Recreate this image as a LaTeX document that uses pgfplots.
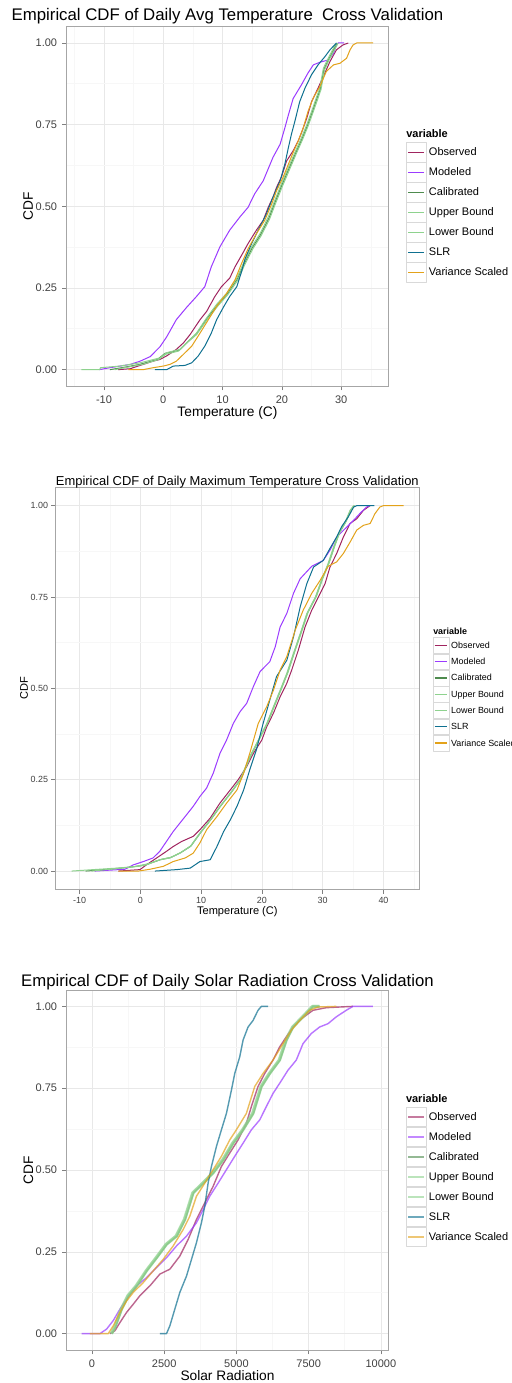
\documentclass[border=0pt]{standalone}
\usepackage{fontspec}
\setmainfont{Liberation Sans}
\usepackage{pgfplots}
\pgfplotsset{compat=1.18}
\definecolor{cObs}{RGB}{160,36,95}
\definecolor{cMod}{RGB}{155,59,255}
\definecolor{cCal}{RGB}{78,139,78}
\definecolor{cBnd}{RGB}{142,210,142}
\definecolor{cSLR}{RGB}{14,112,144}
\definecolor{cVS}{RGB}{227,162,26}
\pgfplotsset{
  ggbase/.style={
    scale only axis,
    anchor=south west,
    axis background/.style={fill=white},
    axis line style={draw=black!35, line width=0.5pt},
    tick align=outside,
    xtick pos=left, ytick pos=left,
    major tick length=3.2pt,
    minor tick length=0pt,
    tick style={draw=black!50, line width=0.5pt},
    grid=both,
    major grid style={draw=black!9, line width=0.5pt},
    minor grid style={draw=black!3, line width=0.5pt},
    ymin=-0.05, ymax=1.05,
    ytick={0,0.25,0.5,0.75,1},
    yticklabels={0.00,0.25,0.50,0.75,1.00},
    minor ytick={0.125,0.375,0.625,0.875},
    ticklabel style={text=black!75},
    legend cell align=left,
    every axis plot/.append style={line width=0.75pt, line join=round},
  },
  key15/.style={
    legend image code/.code={
      \draw[draw=black!15, fill=white, line width=0.4pt, solid, opacity=1] (0pt,-7.3pt) rectangle (15pt,7.3pt);
      \draw[##1] (1.7pt,0pt) -- (13.3pt,0pt);
    },
    legend style={anchor=north west, draw=none, fill=none, inner sep=0pt, outer sep=0pt,
      row sep=0pt, column sep=2pt, font=\fontsize{8.25}{9}\selectfont,
      nodes={inner sep=0pt, text height=6pt, text depth=0.5pt}},
  },
  key15b/.style={
    legend image code/.code={
      \draw[draw=black!15, fill=white, line width=0.4pt, solid, opacity=1] (0pt,-7.3pt) rectangle (15pt,7.3pt);
      \draw[##1, line width=1.4pt, opacity=0.6] (1.7pt,0pt) -- (13.3pt,0pt);
    },
    legend style={anchor=north west, draw=none, fill=none, inner sep=0pt, outer sep=0pt,
      row sep=0pt, column sep=2pt, font=\fontsize{8.25}{9}\selectfont,
      nodes={inner sep=0pt, text height=6pt, text depth=0.5pt}},
  },
  key12/.style={
    legend image code/.code={
      \draw[draw=black!15, fill=white, line width=0.4pt, solid, opacity=1] (0pt,-5.9pt) rectangle (12pt,5.9pt);
      \draw[##1, line width=0.9pt] (1.2pt,0pt) -- (10.8pt,0pt);
    },
    legend style={anchor=north west, draw=none, fill=none, inner sep=0pt, outer sep=0pt,
      row sep=0pt, column sep=1.5pt, font=\fontsize{6.7}{8}\selectfont,
      nodes={inner sep=0pt, text height=4.9pt, text depth=0.4pt}},
  },
}
\begin{document}
\begin{tikzpicture}
\useasboundingbox (0,0) rectangle (383.25pt,-1037.25pt);
%================ Panel 1 ================
\begin{axis}[ggbase, key15,
  at={(50pt,-289.5pt)}, width=241.2pt, height=269.5pt,
  xmin=-16.29, xmax=37.94,
  xtick={-10,0,10,20,30}, xticklabels={-10,0,10,20,30},
  minor xtick={-15,-5,5,15,25,35},
  ticklabel style={font=\fontsize{8.25}{9}\selectfont},
  xticklabel style={anchor=base, inner sep=0pt, yshift=-9.8pt},
  yticklabel style={anchor=east, inner sep=0pt, xshift=-3.8pt},
  title={Empirical CDF of Daily Avg Temperature\ \ Cross Validation},
  title style={font=\fontsize{12.6}{14}\selectfont, at={(axis description cs:0.5,1)}, anchor=base, yshift=-1.5pt, inner sep=0pt},
  xlabel={Temperature (C)},
  xlabel style={font=\fontsize{10.3}{12}\selectfont, at={(axis description cs:0.5,-0.0853)}, anchor=base, inner sep=0pt},
  ylabel={CDF},
  ylabel style={font=\fontsize{10.3}{12}\selectfont, at={(axis description cs:-0.1051,0.5)}, anchor=base, inner sep=0pt},
  legend style={at={(axis description cs:1.0543,0.6783)}},
]
\addplot[cObs] coordinates {(-7.6,0) (-5.5,0.003) (-5.1,0.006) (-3.4,0.016) (-1.7,0.026) (-0.6,0.031) (0.56,0.042) (2.2,0.062) (3.4,0.082) (4.5,0.107) (6.2,0.153) (7.3,0.178) (8.7,0.224) (9.8,0.254) (11.2,0.28) (12.1,0.315) (13.2,0.35) (14.3,0.386) (15.7,0.427) (16.85,0.457) (17.7,0.497) (18.5,0.528) (19.1,0.558) (19.9,0.589) (20.8,0.639) (21.9,0.67) (22.75,0.70) (23.3,0.725) (24.2,0.77) (25.0,0.82) (26.1,0.862) (27.25,0.908) (28.1,0.943) (29.2,0.979) (30.3,0.994) (31.2,1.0)};
\addlegendentry{Observed}
\addplot[cMod] coordinates {(-10.8,0) (-9,0.006) (-5.6,0.016) (-3.9,0.026) (-2.2,0.04) (-0.56,0.07) (0.56,0.10) (2.2,0.153) (3.9,0.19) (5.6,0.224) (7.0,0.254) (8.1,0.315) (9.55,0.376) (11.2,0.427) (12.9,0.467) (14.3,0.497) (15.4,0.538) (16.85,0.578) (18.5,0.65) (19.7,0.69) (20.5,0.74) (21.1,0.78) (21.9,0.83) (23.3,0.872) (24.4,0.908) (25.3,0.933) (26.4,0.941) (27.8,0.948) (28.7,0.968) (29.2,0.994) (29.5,1.0) (30.5,1.0)};
\addlegendentry{Modeled}
\addplot[cCal] coordinates {(-9.0,0) (-7,0.006) (-4,0.016) (-1,0.031) (0.3,0.05) (2.7,0.06) (4.4,0.09) (5.6,0.11) (7.3,0.155) (9.1,0.197) (10.8,0.232) (12.5,0.278) (13.6,0.322) (15.0,0.373) (16.4,0.413) (17.8,0.463) (18.9,0.515) (20.0,0.565) (21.2,0.616) (22.3,0.662) (23.4,0.707) (24.3,0.747) (25.1,0.787) (25.9,0.83) (26.5,0.86) (27.1,0.92) (27.9,0.95) (28.8,0.982) (29.3,1.0)};
\addlegendentry{Calibrated}
\addplot[cBnd] coordinates {(-8.2,0) (-6.5,0.006) (-3.5,0.016) (-0.8,0.031) (0.4,0.047) (2.6,0.057) (4.3,0.087) (5.6,0.107) (7.4,0.153) (9.2,0.195) (10.9,0.23) (12.6,0.275) (13.7,0.32) (15.1,0.37) (16.5,0.41) (17.9,0.46) (19.0,0.512) (20.1,0.562) (21.3,0.613) (22.4,0.66) (23.5,0.705) (24.4,0.745) (25.2,0.785) (26.0,0.826) (26.6,0.858) (27.2,0.918) (28.0,0.95) (28.9,0.98) (29.5,1.0)};
\addlegendentry{Upper Bound}
\addplot[cBnd] coordinates {(-13.8,0) (-10.7,0) (-10.6,0.006) (-7.3,0.011) (-3.9,0.021) (-0.56,0.036) (0.56,0.052) (2.8,0.062) (4.5,0.092) (5.6,0.112) (7.3,0.158) (9.0,0.2) (10.7,0.234) (12.4,0.28) (13.5,0.325) (14.9,0.376) (16.3,0.416) (17.7,0.467) (18.8,0.518) (19.9,0.568) (21.1,0.619) (22.2,0.665) (23.3,0.71) (24.2,0.75) (25.0,0.79) (25.8,0.832) (26.4,0.862) (27.0,0.923) (27.8,0.953) (28.7,0.984) (29.2,1.0)};
\addlegendentry{Lower Bound}
\addplot[cSLR] coordinates {(-1.4,0) (0.56,0) (1.7,0.011) (3.65,0.013) (4.8,0.021) (5.9,0.042) (7.0,0.072) (8.1,0.112) (9.0,0.153) (10.1,0.19) (11.2,0.224) (12.4,0.254) (13.2,0.30) (13.8,0.34) (14.9,0.386) (16.0,0.427) (17.4,0.477) (18.5,0.528) (19.7,0.578) (20.5,0.629) (21.1,0.68) (21.6,0.72) (22.2,0.761) (23.0,0.82) (23.9,0.862) (25.0,0.903) (26.1,0.933) (27.25,0.958) (28.1,0.979) (28.9,0.994) (29.2,1.0)};
\addlegendentry{SLR}
\addplot[cVS] coordinates {(-5.9,0) (-3.4,0) (-1.7,0.006) (0,0.011) (1.1,0.016) (2.2,0.026) (3.4,0.047) (4.8,0.072) (6.2,0.112) (7.6,0.153) (9.0,0.194) (10.7,0.234) (12.1,0.275) (13.2,0.325) (14.3,0.37) (15.7,0.416) (17.1,0.457) (18.3,0.508) (19.1,0.548) (20.2,0.589) (21.1,0.629) (21.9,0.665) (22.75,0.70) (23.6,0.74) (24.4,0.79) (25.3,0.832) (26.4,0.867) (27.5,0.913) (28.7,0.933) (29.8,0.938) (30.9,0.953) (31.5,0.979) (32.0,0.994) (32.6,1.0) (35.4,1.0)};
\addlegendentry{Variance Scaled}
\end{axis}
\node[anchor=base west, inner sep=0pt, font=\fontsize{8.25}{9}\selectfont\bfseries] at (304.5pt,-103pt) {variable};
%================ Panel 2 ================
\begin{axis}[ggbase, key12,
  at={(41.5pt,-667pt)}, width=273pt, height=301.5pt,
  xmin=-13.98, xmax=45.9,
  xtick={-10,0,10,20,30,40}, xticklabels={-10,0,10,20,30,40},
  minor xtick={-5,5,15,25,35,45},
  ticklabel style={font=\fontsize{6.7}{8}\selectfont},
  xticklabel style={anchor=base, inner sep=0pt, yshift=-7.3pt},
  yticklabel style={anchor=east, inner sep=0pt, xshift=-2.05pt},
  title={Empirical CDF of Daily Maximum Temperature Cross Validation},
  title style={font=\fontsize{9.7}{11}\selectfont, at={(axis description cs:0.5,1)}, anchor=base, yshift=-4.3pt, inner sep=0pt},
  xlabel={Temperature (C)},
  xlabel style={font=\fontsize{8.3}{10}\selectfont, at={(axis description cs:0.5,-0.0630)}, anchor=base, inner sep=0pt},
  ylabel={CDF},
  ylabel style={font=\fontsize{8.3}{10}\selectfont, at={(axis description cs:-0.0751,0.5)}, anchor=base, inner sep=0pt},
  legend style={at={(axis description cs:1.0366,0.6269)}},
]
\addplot[cObs] coordinates {(-3.6,0) (-0.05,0.004) (1.0,0.017) (2.7,0.036) (4.3,0.054) (5.4,0.067) (6.8,0.081) (8.7,0.095) (9.8,0.113) (11.5,0.145) (13.1,0.186) (14.8,0.222) (16.1,0.25) (17.5,0.286) (18.6,0.322) (20.0,0.359) (20.8,0.395) (21.9,0.432) (23.0,0.477) (24.1,0.514) (24.9,0.55) (26.0,0.605) (27.1,0.668) (28.2,0.714) (29.6,0.76) (30.4,0.787) (31.2,0.832) (32.3,0.869) (33.4,0.914) (34.5,0.951) (35.6,0.964) (36.7,0.987) (37.8,1.0)};
\addlegendentry{Observed}
\addplot[cMod] coordinates {(-7.5,0) (-2.5,0.005) (-1.15,0.017) (0.5,0.026) (2.1,0.036) (3.2,0.054) (4.3,0.081) (5.4,0.108) (6.5,0.131) (7.6,0.154) (8.7,0.177) (9.8,0.204) (10.9,0.227) (12.0,0.268) (13.1,0.322) (14.2,0.359) (15.3,0.404) (16.4,0.436) (17.5,0.459) (18.6,0.505) (19.7,0.546) (21.3,0.573) (22.2,0.614) (23.0,0.668) (24.1,0.705) (25.2,0.76) (26.3,0.80) (28.2,0.834) (30.1,0.85) (31.2,0.878) (32.3,0.914) (34.0,0.942) (35.1,0.96) (36.1,0.978) (37.2,0.996) (37.8,1.0)};
\addlegendentry{Modeled}
\addplot[cCal] coordinates {(-9,0) (-6,0.004) (-2,0.01) (0.2,0.015) (1.2,0.019) (3.3,0.031) (5.0,0.037) (6.6,0.05) (8.3,0.068) (9.9,0.105) (11.6,0.141) (13.2,0.178) (14.9,0.214) (16.5,0.251) (18.1,0.314) (19.8,0.369) (20.9,0.405) (22.0,0.451) (23.1,0.496) (24.2,0.542) (25.3,0.598) (26.4,0.651) (27.5,0.706) (28.9,0.751) (29.9,0.798) (31.0,0.843) (31.9,0.888) (32.7,0.924) (33.8,0.956) (34.6,0.988) (35.2,1.0)};
\addlegendentry{Calibrated}
\addplot[cBnd] coordinates {(-8,0) (-5,0.005) (-1,0.012) (1.3,0.02) (3.4,0.032) (5.1,0.038) (6.7,0.051) (8.4,0.07) (10.0,0.107) (11.7,0.143) (13.3,0.18) (15.0,0.216) (16.6,0.253) (18.2,0.316) (19.9,0.371) (21.0,0.407) (22.1,0.453) (23.2,0.498) (24.3,0.544) (25.4,0.6) (26.5,0.653) (27.6,0.708) (29.0,0.753) (30.0,0.8) (31.1,0.845) (32.0,0.89) (32.8,0.926) (33.9,0.958) (34.7,0.99) (35.3,1.0)};
\addlegendentry{Upper Bound}
\addplot[cBnd] coordinates {(-11.3,0) (-7.7,0.004) (-3.9,0.008) (-0.3,0.013) (1.0,0.017) (3.2,0.031) (4.9,0.036) (6.5,0.049) (8.2,0.067) (9.8,0.104) (11.5,0.14) (13.1,0.177) (14.8,0.213) (16.4,0.25) (18.0,0.313) (19.7,0.368) (20.8,0.404) (21.9,0.45) (23.0,0.495) (24.1,0.541) (25.2,0.596) (26.3,0.65) (27.4,0.705) (28.8,0.75) (29.8,0.796) (30.9,0.842) (31.8,0.887) (32.6,0.923) (33.7,0.955) (34.5,0.987) (35.1,1.0)};
\addlegendentry{Lower Bound}
\addplot[cSLR] coordinates {(2.4,0) (6.0,0.004) (8.2,0.008) (9.8,0.026) (11.5,0.031) (12.6,0.067) (13.7,0.108) (14.8,0.14) (15.9,0.177) (17.0,0.222) (18.0,0.277) (19.1,0.332) (20.2,0.404) (21.3,0.468) (22.4,0.532) (24.1,0.577) (25.2,0.641) (26.3,0.723) (27.4,0.787) (28.5,0.832) (30.1,0.85) (31.2,0.883) (32.3,0.914) (33.1,0.942) (34.2,0.969) (35.1,0.996) (35.6,1.0) (38.5,1.0)};
\addlegendentry{SLR}
\addplot[cVS] coordinates {(-3.6,0) (-0.3,0) (1.6,0.005) (3.8,0.013) (5.4,0.026) (7.4,0.036) (8.7,0.049) (9.8,0.077) (10.9,0.113) (12.6,0.149) (14.2,0.186) (15.9,0.222) (17.0,0.268) (18.0,0.322) (19.4,0.404) (20.8,0.45) (21.9,0.495) (23.0,0.55) (24.1,0.587) (25.5,0.66) (26.8,0.714) (28.2,0.76) (29.6,0.796) (30.9,0.834) (32.3,0.846) (33.4,0.869) (34.5,0.90) (35.6,0.933) (36.7,0.946) (37.8,0.951) (38.6,0.978) (39.4,0.996) (40.0,1.0) (43.3,1.0)};
\addlegendentry{Variance Scaled}
\end{axis}
\node[anchor=base west, inner sep=0pt, font=\fontsize{6.7}{8}\selectfont\bfseries] at (324.75pt,-475.5pt) {variable};
%================ Panel 3 ================
\begin{axis}[ggbase, key15b,
  at={(50pt,-1012.5pt)}, width=241.2pt, height=270pt,
  xmin=-876, xmax=10256,
  xtick={0,2500,5000,7500,10000}, xticklabels={0,2500,5000,7500,10000},
  minor xtick={1250,3750,6250,8750},
  ticklabel style={font=\fontsize{8.25}{9}\selectfont},
  xticklabel style={anchor=base, inner sep=0pt, yshift=-9.7pt},
  yticklabel style={anchor=east, inner sep=0pt, xshift=-3.8pt},
  title={Empirical CDF of Daily Solar Radiation Cross Validation},
  title style={font=\fontsize{12.55}{14}\selectfont, at={(axis description cs:0.5,1)}, anchor=base, yshift=-3pt, inner sep=0pt},
  xlabel={Solar Radiation},
  xlabel style={font=\fontsize{10.3}{12}\selectfont, at={(axis description cs:0.5,-0.0852)}, anchor=base, inner sep=0pt},
  ylabel={CDF},
  ylabel style={font=\fontsize{10.3}{12}\selectfont, at={(axis description cs:-0.1041,0.5)}, anchor=base, inner sep=0pt},
  legend style={at={(axis description cs:1.0543,0.676)}},
  every axis plot/.append style={line width=1.05pt, opacity=0.7},
]
\addplot[cObs] coordinates {(622,0) (795,0.009) (968,0.034) (1198,0.065) (1429,0.09) (1659,0.116) (2004,0.146) (2350,0.182) (2696,0.197) (3041,0.237) (3329,0.288) (3617,0.349) (3905,0.40) (4193,0.45) (4481,0.511) (4769,0.552) (5057,0.592) (5345,0.643) (5518,0.694) (5748,0.755) (5979,0.795) (6267,0.836) (6497,0.876) (6728,0.907) (6958,0.937) (7246,0.962) (7649,0.988) (8110,0.996) (9032,1.0)};
\addlegendentry{Observed}
\addplot[cMod] coordinates {(-357,0) (276,0) (507,0.014) (737,0.04) (968,0.075) (1198,0.105) (1544,0.146) (1889,0.171) (2235,0.202) (2580,0.232) (2926,0.268) (3272,0.298) (3617,0.339) (3848,0.379) (4078,0.42) (4366,0.46) (4654,0.501) (4942,0.542) (5230,0.582) (5518,0.623) (5806,0.653) (6036,0.694) (6267,0.734) (6497,0.765) (6785,0.805) (7073,0.836) (7304,0.886) (7592,0.917) (7880,0.937) (8168,0.947) (8456,0.968) (8801,0.988) (9032,1.0) (9723,1.0)};
\addlegendentry{Modeled}
\addplot[cCal] coordinates {(700,0) (810,0.019) (1040,0.075) (1270,0.116) (1560,0.146) (1900,0.192) (2250,0.232) (2595,0.273) (2940,0.298) (3230,0.349) (3515,0.43) (3860,0.46) (4205,0.491) (4550,0.531) (4895,0.582) (5240,0.623) (5590,0.673) (5875,0.755) (6165,0.795) (6510,0.836) (6740,0.897) (6970,0.937) (7315,0.968) (7660,1.0) (7880,1.0)};
\addlegendentry{Calibrated}
\addplot[cBnd, line width=2.2pt, opacity=0.6] coordinates {(660,0) (775,0.019) (1005,0.075) (1236,0.116) (1524,0.146) (1869,0.192) (2215,0.232) (2560,0.273) (2906,0.298) (3194,0.349) (3482,0.43) (3828,0.46) (4173,0.491) (4519,0.531) (4864,0.582) (5210,0.623) (5556,0.673) (5844,0.755) (6132,0.795) (6477,0.836) (6708,0.897) (6938,0.937) (7284,0.968) (7629,1.0) (7860,1.0)};
\addlegendentry{Upper Bound}
\addplot[cBnd, line width=2.2pt, opacity=0.6] coordinates {(680,0) (795,0.019) (1025,0.075) (1256,0.116) (1544,0.146) (1889,0.192) (2235,0.232) (2580,0.273) (2926,0.298) (3214,0.349) (3502,0.43) (3848,0.46) (4193,0.491) (4539,0.531) (4884,0.582) (5230,0.623) (5576,0.673) (5864,0.755) (6152,0.795) (6497,0.836) (6728,0.897) (6958,0.937) (7304,0.968) (7649,1.0) (7880,1.0)};
\addlegendentry{Lower Bound}
\addplot[cSLR] coordinates {(2350,0) (2580,0) (2696,0.024) (2868,0.075) (3041,0.126) (3272,0.176) (3445,0.227) (3617,0.278) (3790,0.339) (3905,0.39) (4020,0.46) (4135,0.511) (4308,0.572) (4481,0.623) (4654,0.673) (4827,0.744) (4942,0.795) (5115,0.846) (5230,0.897) (5403,0.937) (5576,0.957) (5748,0.988) (5864,1.0) (6094,1.0)};
\addlegendentry{SLR}
\addplot[cVS] coordinates {(-69,0) (564,0) (737,0.024) (968,0.065) (1198,0.10) (1429,0.126) (1774,0.156) (2120,0.192) (2465,0.227) (2811,0.268) (3156,0.318) (3387,0.359) (3617,0.42) (3905,0.46) (4193,0.501) (4481,0.542) (4769,0.592) (4999,0.623) (5345,0.673) (5633,0.755) (5921,0.795) (6267,0.836) (6612,0.886) (6900,0.927) (7188,0.957) (7534,0.988) (7822,0.998) (8456,1.0)};
\addlegendentry{Variance Scaled}
\end{axis}
\node[anchor=base west, inner sep=0pt, font=\fontsize{8.25}{9}\selectfont\bfseries] at (304.3pt,-826.7pt) {variable};
\end{tikzpicture}
\end{document}
